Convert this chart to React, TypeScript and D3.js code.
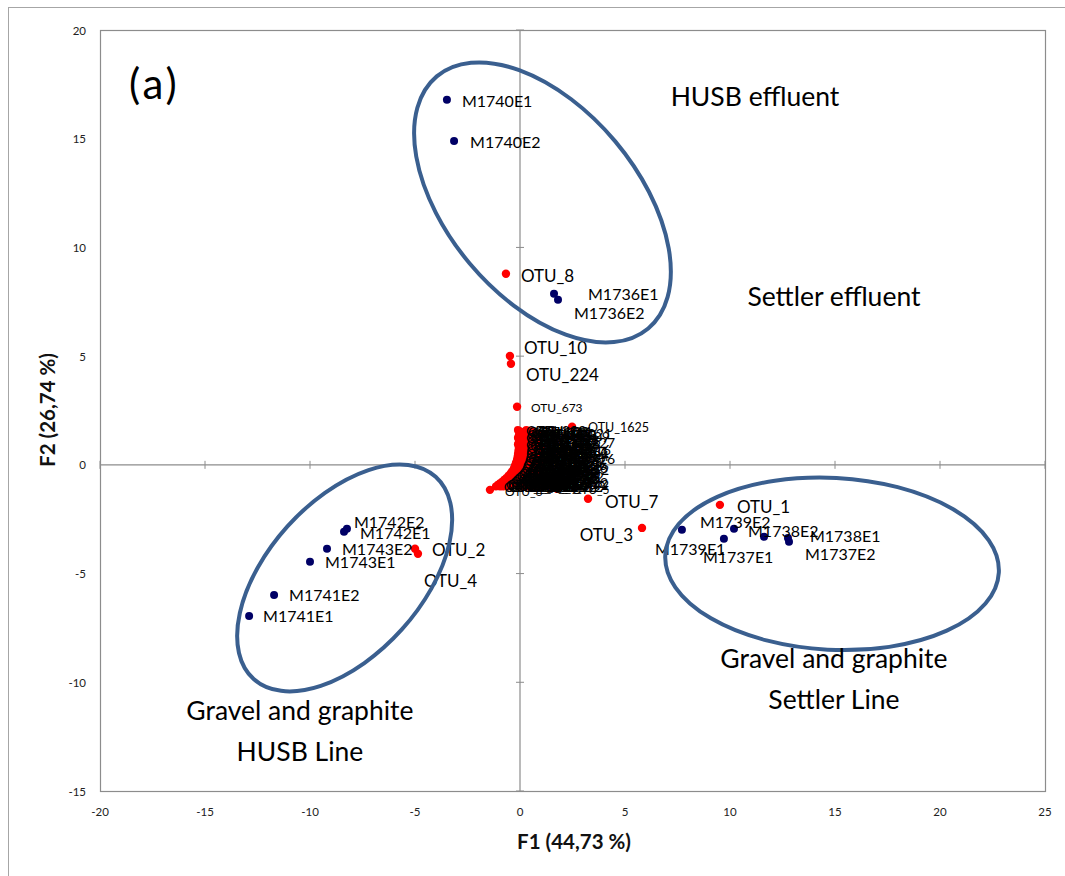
import React from 'react';
import * as d3 from 'd3';

// ---------- data ----------
const xTicks = [-20, -15, -10, -5, 0, 5, 10, 15, 20, 25];
const yTicks = [-15, -10, -5, 0, 5, 10, 15, 20];

const sampleNames = [
  'M1740E1', 'M1740E2', 'M1736E1', 'M1736E2',
  'M1742E2', 'M1742E1', 'M1743E2', 'M1743E1', 'M1741E2', 'M1741E1',
  'M1739E1', 'M1739E2', 'M1737E1', 'M1738E2', 'M1738E1', 'M1737E2',
];
const sampleF1 = [-3.48, -3.14, 1.62, 1.81, -8.24, -8.38, -9.19, -10.0, -11.71, -12.9, 7.71, 10.19, 9.71, 11.62, 12.76, 12.81];
const sampleF2 = [16.79, 14.9, 7.87, 7.59, -2.94, -3.08, -3.86, -4.46, -5.98, -6.95, -2.99, -2.94, -3.4, -3.31, -3.36, -3.54];

const otuNames = ['OTU_8', 'OTU_10', 'OTU_224', 'OTU_673', 'OTU_1625', 'OTU_2', 'OTU_4', 'OTU_7', 'OTU_3', 'OTU_1', 'OTU_6', 'OTU_5'];
const otuF1 = [-0.67, -0.48, -0.43, -0.14, 2.48, -5.0, -4.86, 3.24, 5.81, 9.52, -1.43, 1.76];
const otuF2 = [8.79, 5.01, 4.65, 2.67, 1.75, -3.86, -4.09, -1.56, -2.9, -1.84, -1.15, -1.1];

// dense cluster of minor OTUs near the origin: [name, F1, F2]
const clusterOtus: [string, number, number][] = [
  ['OTU_41', -1.15, -1.0], ['OTU_87', -1.05, -0.92], ['OTU_112', -0.95, -0.85], ['OTU_64', -0.85, -0.78],
  ['OTU_203', -0.75, -0.68], ['OTU_55', -0.65, -0.6], ['OTU_318', -0.55, -0.5], ['OTU_29', -0.45, -0.4],
  ['OTU_146', -0.38, -0.3], ['OTU_72', -0.3, -0.18], ['OTU_411', -0.25, -0.05], ['OTU_36', -0.2, 0.08],
  ['OTU_158', -0.15, 0.22], ['OTU_93', -0.12, 0.36], ['OTU_507', -0.1, 0.5], ['OTU_18', -0.08, 0.65],
  ['OTU_231', -0.06, 0.8], ['OTU_47', -0.1, 0.95], ['OTU_126', -0.05, 1.1], ['OTU_61', -0.1, 1.25],
  ['OTU_1031', -0.05, 1.4], ['OTU_22', -0.1, 1.6], ['OTU_19', 0.3, 1.6], ['OTU_245', 0.2, 1.4],
  ['OTU_88', 0.15, 1.2], ['OTU_371', 0.25, 1.0], ['OTU_14', 0.35, 0.8], ['OTU_691', 0.3, 0.55],
  ['OTU_53', 0.2, 0.35], ['OTU_137', 0.15, 0.15], ['OTU_26', 0.05, -0.05], ['OTU_412', -0.05, -0.2],
  ['OTU_77', -0.15, -0.35], ['OTU_189', -0.3, -0.5], ['OTU_33', -0.45, -0.62], ['OTU_852', -0.6, -0.75],
  ['OTU_95', -0.8, -0.9], ['OTU_141', -0.95, -1.0], ['OTU_12', 0.5, 1.3], ['OTU_316', 0.6, 1.1],
  ['OTU_44', 0.45, 0.9], ['OTU_1216', 0.7, 0.7], ['OTU_67', 0.55, 0.5], ['OTU_274', 0.8, 0.4],
  ['OTU_31', 0.4, 0.25], ['OTU_583', 0.65, 0.1], ['OTU_126', 0.9, 0.0], ['OTU_49', 0.35, -0.1],
  ['OTU_167', 0.6, -0.2], ['OTU_82', 0.85, -0.3], ['OTU_1412', 0.2, -0.35], ['OTU_58', 0.45, -0.45],
  ['OTU_312', 0.75, -0.55], ['OTU_27', 0.05, -0.55], ['OTU_448', 0.3, -0.65], ['OTU_112', 0.6, -0.75],
  ['OTU_39', -0.2, -0.7], ['OTU_205', 0.1, -0.8], ['OTU_16', 0.4, -0.9], ['OTU_734', -0.4, -0.85],
  ['OTU_51', -0.1, -0.95], ['OTU_142', 0.2, -1.0], ['OTU_212', 0.95, -0.8], ['OTU_69', 1.0, -0.5],
  ['OTU_1326', 0.9, 0.3], ['OTU_83', 0.85, 0.9], ['OTU_226', 0.95, -0.1], ['OTU_112', 0.7, -1.0],
  ['OTU_35', 0.5, 0.0], ['OTU_619', 0.25, 0.7], ['OTU_91', 0.9, 1.2], ['OTU_1021', 0.75, 1.45],
  ['OTU_23', 0.45, 1.55], ['OTU_381', 1.0, 0.6], ['OTU_442', 1.0, -0.9], ['OTU_98', -0.6, -1.0],
  ['OTU_15', 0.1, 0.45], ['OTU_267', 0.55, -0.6],
  ['OTU_108', 0.0, 1.55], ['OTU_57', 0.4, 1.4], ['OTU_1109', 0.65, 1.3], ['OTU_74', 0.1, 1.35],
  ['OTU_263', 0.35, 1.15], ['OTU_45', 0.55, 0.95], ['OTU_189', 0.1, 0.9], ['OTU_521', 0.45, 0.7],
  ['OTU_63', 0.65, 0.55], ['OTU_302', 0.0, 0.3], ['OTU_81', 0.3, 0.4], ['OTU_177', 0.5, 0.3],
  ['OTU_39', 0.75, 0.2], ['OTU_1626', 0.1, 0.05], ['OTU_96', 0.3, 0.1], ['OTU_213', 0.7, -0.05],
  ['OTU_48', 0.2, -0.2], ['OTU_356', 0.45, -0.25], ['OTU_71', 0.75, -0.35], ['OTU_1142', -0.1, -0.45],
  ['OTU_24', 0.15, -0.45], ['OTU_287', 0.4, -0.55], ['OTU_62', 0.85, -0.65], ['OTU_419', -0.3, -0.65],
  ['OTU_17', 0.0, -0.7], ['OTU_136', 0.25, -0.8], ['OTU_59', 0.55, -0.9], ['OTU_612', -0.5, -0.95],
  ['OTU_85', -0.2, -0.85], ['OTU_1512', 0.05, -1.0], ['OTU_34', 0.35, -1.0], ['OTU_249', 0.85, -1.0],
  ['OTU_66', 0.95, -0.6], ['OTU_152', 1.0, -0.2], ['OTU_28', 0.95, 0.15], ['OTU_384', 1.0, 0.45],
  ['OTU_79', 0.95, 0.8], ['OTU_1227', 0.9, 1.05], ['OTU_43', 0.8, 1.4], ['OTU_195', -0.8, -1.0],
  ['OTU_52', 0.6, 0.8], ['OTU_467', 0.8, 0.6], ['OTU_21', 0.25, 0.55], ['OTU_338', 0.5, 1.15],
  ['OTU_94', 0.15, 1.5], ['OTU_11', 0.6, 1.55],
];

const groupNames = ['HUSB effluent', 'Settler effluent', 'Gravel and graphite|Settler Line', 'Gravel and graphite|HUSB Line'];
const groupF1 = [11.19, 14.95, 14.95, -10.48];
const groupF2 = [16.5, 7.31, -9.34, -11.73];

// ellipses: centre in data units
const ellipseF1 = [1.07, 14.86, -8.35];
const ellipseF2 = [12.07, -4.55, -5.2];

// ---------- styling (positions in px, offsets from point) ----------
const labelOffset: Record<string, [number, number, string?]> = {
  M1740E1: [15, 1], M1740E2: [16, 1], M1736E1: [34, 0], M1736E2: [16, 13],
  M1742E2: [7, -7], M1742E1: [16, 1], M1743E2: [15, 0], M1743E1: [15, 0],
  M1741E2: [15, 0], M1741E1: [14, 0],
  M1739E2: [-34, -7], M1739E1: [-27, 19], M1738E2: [-16, -6], M1738E1: [22, -2],
  M1737E1: [-21, 18], M1737E2: [16, 12],
  OTU_8: [15, 2], OTU_10: [14, -8], OTU_224: [15, 11], OTU_673: [14, 1], OTU_1625: [16, 1],
  OTU_2: [17, 1], OTU_4: [6, 27], OTU_7: [17, 3], OTU_3: [-9, 7, 'end'], OTU_1: [17, 2],
  OTU_6: [15, 2], OTU_5: [15, 1],
};
const otuFont: Record<string, number> = { OTU_673: 12, OTU_1625: 12.5, OTU_6: 12, OTU_5: 12 };
const ellipseStyle = [
  { rx: 164.5, ry: 95, rot: 50 },
  { rx: 167, ry: 86, rot: 3 },
  { rx: 136, ry: 77, rot: -48 },
];

const FONT = 'Lato, "Open Sans", sans-serif';
const W = 1065, H = 876;
const M = { left: 100, right: 1045, top: 30, bottom: 791 };

export default function App() {
  const x = d3.scaleLinear().domain([-20, 25]).range([M.left, M.right]);
  const y = d3.scaleLinear().domain([-15, 20]).range([M.bottom, M.top]);
  const x0 = x(0), y0 = y(0);

  return (
    <svg width={W} height={H} style={{ position: 'absolute', left: 0, top: 0, background: '#fff' }} fontFamily={FONT}>
      <rect x={0} y={0} width={W} height={H} fill="#fff" />
      {/* outer chart border */}
      <rect x={8.5} y={7.5} width={1100} height={900} fill="none" stroke="#a6a6a6" strokeWidth={1} />
      {/* plot area */}
      <rect x={M.left + 0.5} y={M.top + 0.5} width={M.right - M.left} height={M.bottom - M.top} fill="#fff" stroke="#8c8c8c" strokeWidth={1.2} />
      {/* zero axes */}
      <line x1={M.left} x2={M.right} y1={y0} y2={y0} stroke="#8c8c8c" strokeWidth={1.2} />
      <line x1={x0} x2={x0} y1={M.top} y2={M.bottom} stroke="#8c8c8c" strokeWidth={1.2} />
      {xTicks.map((t) => (
        <line key={'xt' + t} x1={x(t)} x2={x(t)} y1={y0 - 4} y2={y0 + 4} stroke="#8c8c8c" strokeWidth={1} />
      ))}
      {yTicks.map((t) => (
        <line key={'yt' + t} x1={x0 - 4} x2={x0 + 4} y1={y(t)} y2={y(t)} stroke="#8c8c8c" strokeWidth={1} />
      ))}
      {/* tick labels */}
      {xTicks.map((t) => (
        <text key={'xl' + t} x={x(t)} y={811} textAnchor="middle" dominantBaseline="central" fontSize={11.5} fill="#222">{t}</text>
      ))}
      {yTicks.map((t) => (
        <text key={'yl' + t} x={86} y={y(t)} textAnchor="end" dominantBaseline="central" fontSize={11.5} fill="#222">{t}</text>
      ))}
      {/* axis titles */}
      <text x={574} y={841} textAnchor="middle" dominantBaseline="central" fontSize={20.5} fontWeight="bold" fill="#111">F1 (44,73 %)</text>
      <text transform={`translate(47,410) rotate(-90)`} textAnchor="middle" dominantBaseline="central" fontSize={20.5} fontWeight="bold" fill="#111">F2 (26,74 %)</text>

      {/* cluster points */}
      {clusterOtus.map(([n, a, b], i) => (
        <circle key={'cp' + i} cx={x(a)} cy={y(b)} r={4} fill="#ff0000" />
      ))}
      {/* main OTU points */}
      {otuNames.map((n, i) => (
        <circle key={'op' + n} cx={x(otuF1[i])} cy={y(otuF2[i])} r={4.2} fill="#ff0000" />
      ))}
      {/* sample points */}
      {sampleNames.map((n, i) => (
        <circle key={'sp' + n} cx={x(sampleF1[i])} cy={y(sampleF2[i])} r={4} fill="#000066" />
      ))}

      {/* cluster labels */}
      {clusterOtus.map(([n, a, b], i) => (
        <text key={'cl' + i} x={x(a) + 8} y={y(b)} dominantBaseline="central" fontSize={14} fill="#000">{n}</text>
      ))}
      {/* OTU labels */}
      {otuNames.map((n, i) => {
        const o = labelOffset[n];
        return (
          <text key={'ol' + n} x={x(otuF1[i]) + o[0]} y={y(otuF2[i]) + o[1]} textAnchor={o[2] || 'start'} dominantBaseline="central" fontSize={otuFont[n] || 17} fill="#000">{n}</text>
        );
      })}
      {/* sample labels */}
      {sampleNames.map((n, i) => {
        const o = labelOffset[n];
        return (
          <text key={'sl' + n} x={x(sampleF1[i]) + o[0]} y={y(sampleF2[i]) + o[1]} dominantBaseline="central" fontSize={16} fill="#000">{n}</text>
        );
      })}

      {/* ellipses */}
      {ellipseF1.map((a, i) => (
        <ellipse key={'el' + i} cx={0} cy={0} rx={ellipseStyle[i].rx} ry={ellipseStyle[i].ry}
          transform={`translate(${x(a)},${y(ellipseF2[i])}) rotate(${ellipseStyle[i].rot})`}
          fill="none" stroke="#3a5f8f" strokeWidth={4} />
      ))}

      {/* group annotations */}
      {groupNames.map((g, i) => {
        const lines = g.split('|');
        return (
          <text key={'g' + i} x={x(groupF1[i])} y={y(groupF2[i])} textAnchor="middle" fontSize={26.5} fill="#000">
            {lines.map((l, j) => (
              <tspan key={j} x={x(groupF1[i])} dy={j === 0 ? 0 : 41}>{l}</tspan>
            ))}
          </text>
        );
      })}
      <text x={129} y={99} fontSize={42} letterSpacing={3} fill="#000">(a)</text>
    </svg>
  );
}
